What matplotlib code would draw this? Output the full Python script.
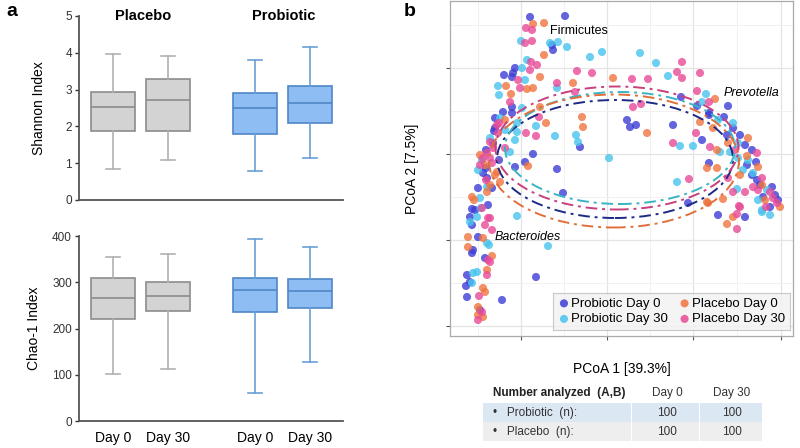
import matplotlib
matplotlib.use("Agg")
import matplotlib.pyplot as plt
from matplotlib.patches import Ellipse, Rectangle

plt.rcParams['font.family'] = ['Liberation Sans', 'DejaVu Sans']

# ---------------- panel a data (box stats) ----------------
groups = ["Placebo", "Probiotic"]
days = ["Day 0", "Day 30", "Day 0", "Day 30"]
box_pos = [1.0, 2.0, 3.58, 4.58]

# order: placebo d0, placebo d30, probiotic d0, probiotic d30
shannon_low = [0.84, 1.09, 0.78, 1.15]
shannon_q1 = [1.88, 1.87, 1.79, 2.08]
shannon_med = [2.54, 2.72, 2.49, 2.64]
shannon_q3 = [2.93, 3.29, 2.92, 3.11]
shannon_high = [3.96, 3.90, 3.80, 4.15]

chao_low = [101, 112, 60, 128]
chao_q1 = [220, 238, 236, 244]
chao_med = [267, 271, 284, 281]
chao_q3 = [309, 301, 309, 306]
chao_high = [355, 360, 393, 376]

# ---------------- panel b data (PCoA scores) ----------------
pro0_x = [-0.77, -0.42, -0.55, -0.54, -0.92, -0.94, -0.95, -1.03, -1.04, -0.95,
          0.74, 1.21, 0.90, 1.02, -1.12, -1.13, -1.14, -1.24, -1.20, -1.15,
          -1.35, -1.37, -0.74, -0.82, -0.92, -0.50, -0.44, -0.27, -0.95, 1.02,
          0.20, 0.29, 0.23, 0.66, 1.17, 0.95, 1.20, 1.26, 1.33, 1.45,
          1.49, 1.40, 1.45, 1.50, 1.65, 1.68, 1.56, 1.02, 0.81, 1.11,
          1.38, 1.63, -1.29, -1.34, -1.35, -1.22, -1.40, -1.37, -1.41, -1.40,
          -1.27, -1.05, -0.71, -1.08, -1.21, -1.12, -1.21, -1.29, -1.19, -1.35,
          -1.32, 1.38, 1.53, 1.71]
pro0_y = [2.23, 2.24, 1.95, 1.90, 1.72, 1.67, 1.63, 1.65, 1.28, 1.33,
          1.43, 1.34, 1.34, 1.27, 1.22, 1.09, 0.97, 0.67, 0.62, 0.52,
          0.31, 0.23, 0.86, 0.78, 0.73, 0.71, 0.47, 0.93, 1.27, 1.25,
          1.20, 1.15, 1.13, 1.15, 1.23, 1.00, 1.05, 1.12, 1.05, 0.90,
          0.78, 0.75, 0.65, 0.60, 0.53, 0.45, 0.43, 0.77, 0.37, 0.25,
          0.23, 0.33, 0.03, -0.10, -0.13, -0.18, -0.35, -0.42, -0.46, -0.57,
          -0.70, -0.60, -0.37, 0.80, 0.72, 1.12, 0.90, 0.52, 0.35, 0.15,
          0.30, 0.95, 0.55, 0.40]

pro30_x = [-0.86, -0.57, -0.49, -0.40, -0.05, -0.17, -0.80, -0.85, -0.82, -1.09,
           -1.08, -0.50, -0.85, 0.33, 0.49, 0.61, 0.99, 0.95, -0.90, -0.71,
           -0.90, -0.52, -0.31, -0.29, 0.02, -1.25, -0.97, -1.20, -1.27, -0.90,
           -1.30, 1.11, 1.26, 1.31, 1.13, 1.23, 0.73, 0.86, 0.70, 1.31,
           1.46, 1.30, 1.60, 1.55, 1.63, 1.36, -1.20, -1.18, -1.30, -1.34,
           -1.35, -0.59, 1.55, -1.07, -1.02, -1.29, -1.26, -1.37, -1.17, -0.92,
           1.41, 1.51]
pro30_y = [1.99, 1.97, 1.98, 1.93, 1.88, 1.83, 1.80, 1.72, 1.60, 1.54,
           1.45, 1.52, 1.32, 1.87, 1.77, 1.64, 1.46, 1.38, 1.17, 1.14,
           1.08, 1.04, 1.05, 0.98, 0.82, 0.80, 0.88, 0.53, 0.42, 0.24,
           0.23, 1.20, 1.17, 0.97, 0.88, 0.88, 0.94, 0.94, 0.58, 0.82,
           0.67, 0.51, 0.50, 0.30, 0.25, 0.70, -0.03, -0.05, -0.32, -0.33,
           -0.43, -0.06, 0.28, 1.22, 1.10, 0.70, 0.32, 0.18, 1.02, 1.00,
           0.80, 0.40]

pla0_x = [-0.74, -0.63, -0.63, -0.67, 0.06, -0.34, -0.74, -0.80, -0.96, -1.01,
          -0.67, 1.08, -0.61, -0.25, -0.24, -0.79, -1.07, -1.22, -1.10, -1.35,
          -1.20, 0.40, 0.93, 1.06, 1.21, 1.10, 1.41, 1.40, 1.51, 1.10,
          1.00, 1.16, 1.00, 1.26, 1.55, 1.73, -1.39, -1.39, -1.24, -1.15,
          -1.20, -1.24, -1.22, -1.29, -1.24, -1.29, 1.20, 1.01, -1.02, -1.27,
          -1.12, -1.17, -1.33, 1.33, 1.58]
pla0_y = [2.16, 2.17, 1.85, 1.63, 1.62, 1.57, 1.52, 1.51, 1.46, 1.54,
          1.33, 1.41, 1.17, 1.23, 1.13, 0.74, 0.58, 0.75, 0.68, 0.43,
          0.48, 1.07, 1.18, 1.12, 0.97, 0.90, 1.02, 0.84, 0.73, 0.72,
          0.72, 0.41, 0.38, 0.23, 0.55, 0.33, 0.03, -0.07, 0.02, -0.16,
          -0.30, -0.48, -0.52, -0.67, -0.77, -0.75, 0.16, 0.37, 1.20, 0.85,
          0.65, 0.55, 0.40, 0.65, 0.40]

pla30_x = [-0.81, -0.75, -0.75, -0.82, -0.76, -0.70, -0.77, -0.30, -0.15, -0.89,
           -0.87, -0.50, -0.32, -0.97, 0.75, 0.70, 0.75, 0.93, 0.25, 0.41,
           0.90, 0.26, 0.34, 1.02, -1.08, -1.09, -1.20, -1.17, -1.15, -0.81,
           -0.71, -0.68, -1.19, -1.25, -1.02, -1.14, 0.89, 1.03, 0.66, 0.82,
           1.21, 1.26, 1.38, 1.46, 1.51, 1.66, 1.70, 1.59, 1.33, 1.28,
           1.50, -1.15, -1.19, -1.17, -1.20, -1.28, -1.29, -1.25, 1.30, 1.30,
           1.32, -1.10, -1.24, -1.27, -1.17, -1.21, -1.17, -1.22, 1.55, 1.63]
pla30_y = [2.12, 2.10, 1.99, 1.97, 1.78, 1.75, 1.70, 1.69, 1.67, 1.60,
           1.52, 1.57, 1.48, 1.38, 1.78, 1.68, 1.62, 1.67, 1.61, 1.61,
           1.49, 1.33, 1.36, 1.38, 1.17, 1.07, 0.87, 0.82, 0.77, 1.07,
           1.04, 1.23, 0.22, 0.32, 0.92, 0.92, 1.07, 0.93, 0.97, 0.61,
           0.62, 0.48, 0.48, 0.53, 0.50, 0.42, 0.37, 0.33, 0.33, 0.90,
           0.87, 0.10, -0.20, -0.22, -0.35, -0.56, -0.80, -0.72, 0.11, 0.26,
           0.34, 1.15, 0.82, 0.75, 0.98, 0.60, 0.22, 0.15, 0.62, 0.48]

series_labels = ["Probiotic Day 0", "Probiotic Day 30", "Placebo Day 0", "Placebo Day 30"]
series_colors = ["#3d3dd6", "#47c4ee", "#f07440", "#e84b98"]
ellipse_colors = ["#1c2a86", "#3ab3c4", "#e0703a", "#c8407c"]

# 95% ellipses (centre, width, height)
ell_cx = [0.08, 0.13, 0.07, 0.10]
ell_cy = [0.81, 0.92, 0.79, 0.92]
ell_w = [2.36, 2.30, 2.50, 2.43]
ell_h = [1.18, 1.12, 1.33, 1.23]

table_header = ["Number analyzed  (A,B)", "Day 0", "Day 30"]
table_rows = ["\u2022   Probiotic  (n):", "\u2022   Placebo  (n):"]
table_vals = [[100, 100], [100, 100]]


def box_stats(low, q1, med, q3, high):
    return [dict(whislo=a, q1=b, med=c, q3=d, whishi=e, fliers=[])
            for a, b, c, d, e in zip(low, q1, med, q3, high)]


def draw_boxes(ax, stats):
    fills = ["#d3d3d3", "#d3d3d3", "#8ebdf4", "#8ebdf4"]
    edges = ["#8c8c8c", "#8c8c8c", "#4f86c6", "#4f86c6"]
    whisk = ["#b0b0b0", "#b0b0b0", "#6a9fd8", "#6a9fd8"]
    for i in range(4):
        ax.bxp([stats[i]], positions=[box_pos[i]], widths=0.8, capwidths=0.26,
               patch_artist=True, showfliers=False,
               boxprops=dict(facecolor=fills[i], edgecolor=edges[i], linewidth=1.2),
               medianprops=dict(color=edges[i], linewidth=1.2),
               whiskerprops=dict(color=whisk[i], linewidth=1.2),
               capprops=dict(color=whisk[i], linewidth=1.2))
    ax.set_xlim(0.38, 5.18)
    for s in ["top", "right"]:
        ax.spines[s].set_visible(False)
    for s in ["left", "bottom"]:
        ax.spines[s].set_color("#555555")
        ax.spines[s].set_linewidth(1.3)
    ax.tick_params(axis="y", colors="#333333", labelsize=8.5, length=3, width=1, pad=2)
    ax.tick_params(axis="x", length=0)


fig = plt.figure(figsize=(8, 4.48), dpi=100)

# ---- panel a, Shannon ----
ax1 = fig.add_axes([79 / 800, 1 - 200 / 448, 264 / 800, 184 / 448])
draw_boxes(ax1, box_stats(shannon_low, shannon_q1, shannon_med, shannon_q3, shannon_high))
ax1.set_ylim(0, 5)
ax1.set_yticks([0, 1, 2, 3, 4, 5])
ax1.set_xticks([])
ax1.set_ylabel("Shannon Index", fontsize=10, labelpad=14)
ax1.text(1.55, 5.0, groups[0], ha="center", va="center", fontsize=10.5, fontweight="bold")
ax1.text(4.1, 5.0, groups[1], ha="center", va="center", fontsize=10.5, fontweight="bold")

# ---- panel a, Chao-1 ----
ax2 = fig.add_axes([79 / 800, 1 - 421 / 448, 264 / 800, 185 / 448])
draw_boxes(ax2, box_stats(chao_low, chao_q1, chao_med, chao_q3, chao_high))
ax2.set_ylim(0, 400)
ax2.set_yticks([0, 100, 200, 300, 400])
ax2.set_xticks(box_pos)
ax2.set_xticklabels(days, fontsize=10)
ax2.tick_params(axis="x", pad=7)
ax2.set_ylabel("Chao-1 Index", fontsize=10, labelpad=8)

fig.text(12 / 800, 1 - 12 / 448, "a", fontsize=14, fontweight="bold", ha="center", va="center")
fig.text(410 / 800, 1 - 12 / 448, "b", fontsize=14, fontweight="bold", ha="center", va="center")

# ---- panel b, PCoA ----
axb = fig.add_axes([450 / 800, 1 - 336 / 448, 343 / 800, 335 / 448])
axb.set_xlim(-1.57, 1.86)
axb.set_ylim(-0.96, 2.39)
axb.set_xticks([-0.86, 0.0, 0.86, 1.74])
axb.set_yticks([-0.86, 0.0, 0.86, 1.72])
axb.set_xticks([-1.29, -0.43, 0.43, 1.30], minor=True)
axb.set_yticks([-0.43, 0.43, 1.29, 2.15], minor=True)
axb.set_xticklabels([])
axb.set_yticklabels([])
axb.grid(True, which="major", color="#e4e4e4", linewidth=0.9)
axb.grid(True, which="minor", color="#f1f1f1", linewidth=0.7)
axb.set_axisbelow(True)
axb.tick_params(which="major", length=3, width=0.8, color="#555555")
axb.tick_params(which="minor", length=0)
for s in axb.spines.values():
    s.set_color("#aaaaaa")
    s.set_linewidth(0.9)

xs = [pro0_x, pro30_x, pla0_x, pla30_x]
ys = [pro0_y, pro30_y, pla0_y, pla30_y]
for x, y, c, lab in zip(xs, ys, series_colors, series_labels):
    axb.scatter(x, y, s=34, color=c, alpha=0.8, edgecolors="none", label=lab, zorder=2)

for cx, cy, w, h, c in zip(ell_cx, ell_cy, ell_w, ell_h, ellipse_colors):
    axb.add_patch(Ellipse((cx, cy), w, h, fill=False, edgecolor=c,
                          linestyle=(0, (6, 2.5, 1.5, 2.5)), linewidth=1.4, zorder=3))

axb.text(-0.57, 2.09, "Firmicutes", fontsize=9, ha="left", va="center")
axb.text(1.17, 1.47, "Prevotella", fontsize=9, style="italic", ha="left", va="center")
axb.text(-1.12, 0.03, "Bacteroides", fontsize=9, style="italic", ha="left", va="center")

axb.set_xlabel("PCoA 1 [39.3%]", fontsize=10, labelpad=12)
axb.set_ylabel("PCoA 2 [7.5%]", fontsize=10, labelpad=16)

leg = axb.legend(loc="lower right", bbox_to_anchor=(0.99, 0.018), ncol=2, fontsize=9.5,
                 frameon=True, fancybox=False, borderaxespad=0, handletextpad=0.1,
                 handlelength=0.9, columnspacing=0.8, labelspacing=0.25, borderpad=0.35,
                 markerscale=1.0)
leg.get_frame().set_facecolor("#f2f2f2")
leg.get_frame().set_edgecolor("#bbbbbb")
leg.get_frame().set_linewidth(0.8)
for h in leg.legend_handles:
    h.set_alpha(0.85)

# ---- table under panel b ----
axt = fig.add_axes([483 / 800, 1 - 441 / 448, 280 / 800, 58 / 448])
axt.set_xlim(0, 1)
axt.set_ylim(0, 1)
axt.axis("off")
col_edges = [0.0, 0.532, 0.775, 1.0]
row_bottoms = [0.328, 0.0]
row_colors = ["#dce7f4", "#eeeeee"]
for rb, rc in zip(row_bottoms, row_colors):
    for j in range(3):
        axt.add_patch(Rectangle((col_edges[j], rb), col_edges[j + 1] - col_edges[j] - 0.004,
                                0.322, facecolor=rc, edgecolor="none"))
col_centres = [0.036, 0.657, 0.889]
axt.text(col_centres[0], 0.83, table_header[0], fontsize=8.5, fontweight="bold",
         ha="left", va="center", color="#222222")
axt.text(col_centres[1], 0.83, table_header[1], fontsize=8.5, ha="center", va="center", color="#333333")
axt.text(col_centres[2], 0.83, table_header[2], fontsize=8.5, ha="center", va="center", color="#333333")
for i, (lab, vals) in enumerate(zip(table_rows, table_vals)):
    yc = row_bottoms[i] + 0.161
    axt.text(col_centres[0], yc, lab, fontsize=8.5, ha="left", va="center", color="#333333")
    axt.text(col_centres[1], yc, str(vals[0]), fontsize=8.5, ha="center", va="center", color="#333333")
    axt.text(col_centres[2], yc, str(vals[1]), fontsize=8.5, ha="center", va="center", color="#333333")

fig.savefig("out.png", dpi=100)
